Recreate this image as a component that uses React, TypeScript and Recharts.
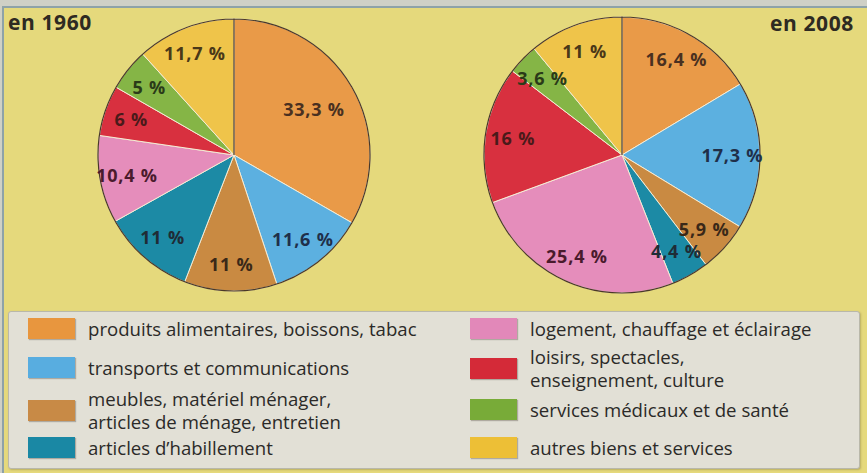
import { PieChart, Pie, Cell } from "recharts";

// Budget des ménages : répartition des dépenses, 1960 vs 2008

const categories = [
  "produits alimentaires, boissons, tabac",
  "transports et communications",
  "meubles, matériel ménager,\narticles de ménage, entretien",
  "articles d’habillement",
  "logement, chauffage et éclairage",
  "loisirs, spectacles,\nenseignement, culture",
  "services médicaux et de santé",
  "autres biens et services",
];
const values1960 = [33.3, 11.6, 11, 11, 10.4, 6, 5, 11.7];
const values2008 = [16.4, 17.3, 5.9, 4.4, 25.4, 16, 3.6, 11];
const years = ["en 1960", "en 2008"];

const sliceColors = ["#e99a48", "#5cb0e0", "#c98a42", "#1c8aa5", "#e58dbb", "#d8303f", "#85b546", "#efc44a"];
const swatchColors = ["#e8963e", "#58ade0", "#c88a46", "#1a88a4", "#e288b9", "#d42a38", "#78ab38", "#edbf36"];
const labelColors = ["#4a3020", "#1f2f4a", "#3a2818", "#1f2c36", "#4a1a2c", "#4a1a1a", "#2a3a18", "#4a3818"];

const FONT = "'Open Sans', 'Noto Sans', sans-serif";
const RAD = Math.PI / 180;

const fmt = (v: number) => `${String(v).replace(".", ",")} %`;

function makeData(values: number[]) {
  return categories.map((name, i) => ({ name, value: values[i] }));
}

function renderLabel(props: any) {
  const { cx, cy, midAngle, outerRadius, value, percent, index } = props;
  const r = outerRadius * (percent > 0.3 ? 0.68 : 0.8);
  const x = cx + r * Math.cos(-midAngle * RAD);
  const y = cy + r * Math.sin(-midAngle * RAD);
  return (
    <text
      x={x}
      y={y}
      textAnchor="middle"
      dominantBaseline="central"
      fontFamily={FONT}
      fontWeight={700}
      fontSize={18}
      letterSpacing={0.8}
      fill={labelColors[index]}
    >
      {fmt(value)}
    </text>
  );
}

function YearPie({ values, radius }: { values: number[]; radius: number }) {
  return (
    <PieChart width={300} height={300} margin={{ top: 0, right: 0, bottom: 0, left: 0 }}>
      <Pie
        data={makeData(values)}
        dataKey="value"
        cx={150}
        cy={150}
        outerRadius={radius}
        startAngle={90}
        endAngle={-270}
        stroke="#f4ecd6"
        strokeWidth={1}
        label={renderLabel}
        labelLine={false}
        isAnimationActive={false}
      >
        {values.map((_, i) => (
          <Cell key={i} fill={sliceColors[i]} />
        ))}
      </Pie>
      <Pie
        data={[{ value: 1 }]}
        dataKey="value"
        cx={150}
        cy={150}
        outerRadius={radius}
        startAngle={90}
        endAngle={-270}
        fill="none"
        stroke="#4a3828"
        strokeWidth={1.2}
        isAnimationActive={false}
      />
    </PieChart>
  );
}

function LegendItem({ i, x, y }: { i: number; x: number; y: number }) {
  const lines = categories[i].split("\n");
  return (
    <div style={{ position: "absolute", left: x, top: y, display: "flex", alignItems: "center" }}>
      <div
        style={{
          width: 47,
          height: 21,
          background: swatchColors[i],
          boxShadow: "1px 1px 1px rgba(80,70,60,0.35)",
          flex: "none",
        }}
      />
      <div style={{ marginLeft: 13, fontSize: 18.6, lineHeight: "23px", color: "#2b2a28" }}>
        {lines.map((l, k) => (
          <div key={k} style={{ whiteSpace: "nowrap" }}>{l}</div>
        ))}
      </div>
    </div>
  );
}

export default function App() {
  // legend row centres (relative to legend box)
  const rowY = [17, 56, 98, 136];
  return (
    <div
      style={{
        position: "absolute",
        left: 0,
        top: 0,
        width: 867,
        height: 473,
        background: "#cfd0c6",
        fontFamily: FONT,
        overflow: "hidden",
      }}
    >
      <div
        style={{
          position: "absolute",
          left: 2,
          top: 6,
          width: 863,
          height: 470,
          background: "#e5d97c",
          borderTop: "2px solid #8ea2a8",
          borderLeft: "2px solid #8ea2a8",
        }}
      />
      <div style={{ position: "absolute", left: 84, top: 5 }}>
        <YearPie values={values1960} radius={136} />
      </div>
      <div style={{ position: "absolute", left: 472, top: 5 }}>
        <YearPie values={values2008} radius={138} />
      </div>
      <div style={{ position: "absolute", left: 8, top: 8, fontSize: 21, fontWeight: 700, letterSpacing: 0.6, color: "#2e2a22" }}>
        {years[0]}
      </div>
      <div style={{ position: "absolute", left: 770, top: 9, fontSize: 21, fontWeight: 700, letterSpacing: 0.6, color: "#2e2a22" }}>
        {years[1]}
      </div>
      <div
        style={{
          position: "absolute",
          left: 8,
          top: 311,
          width: 850,
          height: 156,
          background: "#e2e0d6",
          border: "1px solid #b9b8aa",
          borderRadius: 3,
          boxShadow: "1px 1px 2px rgba(90,80,40,0.3)",
        }}
      >
        {[0, 1, 2, 3].map((i) => (
          <LegendItem key={i} i={i} x={19} y={rowY[i] - (categories[i].includes("\n") ? 23 : 12)} />
        ))}
        {[4, 5, 6, 7].map((i, k) => (
          <LegendItem key={i} i={i} x={461} y={rowY[k] - (categories[i].includes("\n") ? 23 : 12)} />
        ))}
      </div>
    </div>
  );
}
